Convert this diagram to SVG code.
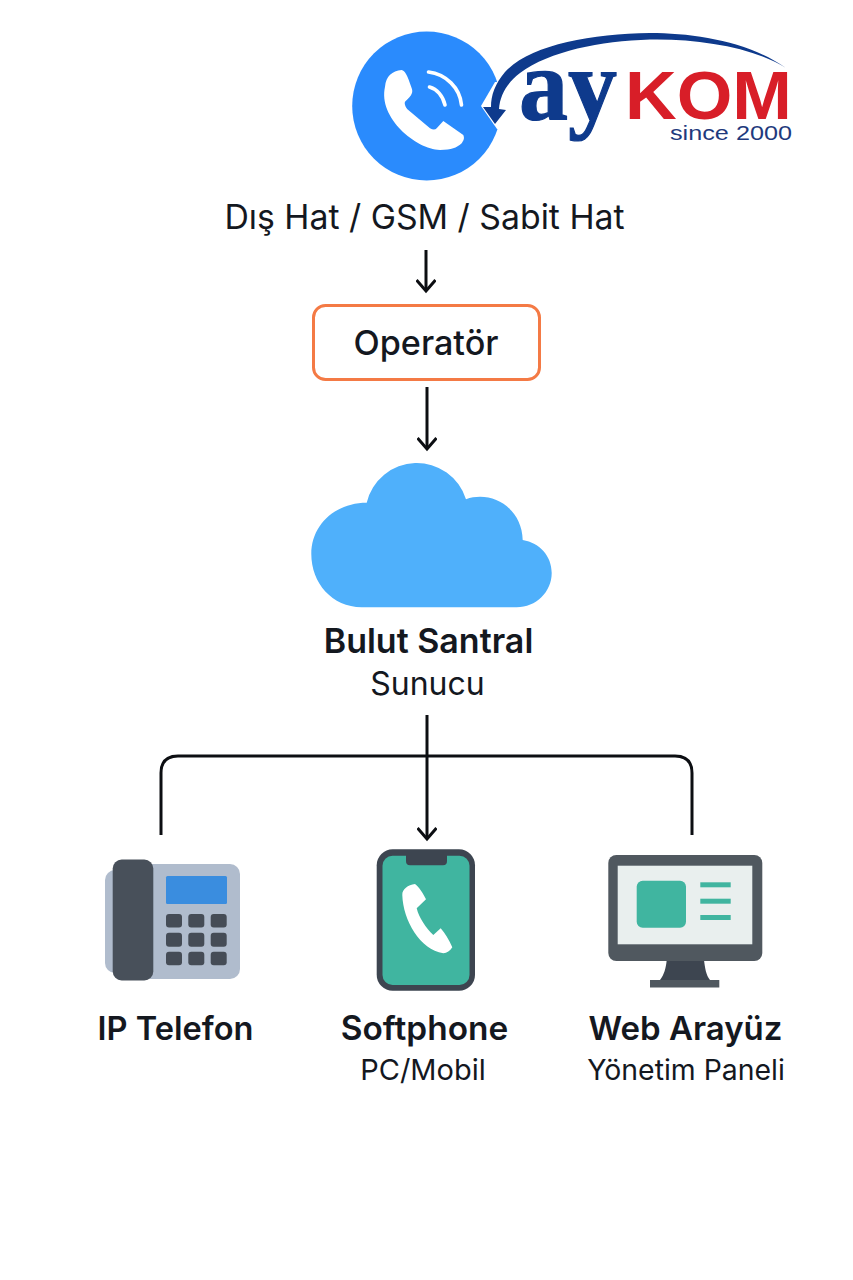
<svg xmlns="http://www.w3.org/2000/svg" width="853" height="1280" viewBox="0 0 853 1280">
<style>
text{font-family:Inter,"Liberation Sans",sans-serif;fill:#14181f;text-anchor:middle}
.h{font-weight:600}
.c{fill:none;stroke:#0c0e12;stroke-width:3}
</style>
<defs>
<marker id="a" markerUnits="userSpaceOnUse" markerWidth="28" markerHeight="20" refX="22" refY="10" orient="auto"><path d="M11,0.5 L22,10 L11,19.5" fill="none" stroke="#0c0e12" stroke-width="3"/></marker>
</defs>
<rect width="853" height="1280" fill="#fff"/>
<g id="logo">
<circle cx="426.7" cy="106" r="74.5" fill="#2a8bfd"/>
<path d="M495,82 L481,106 L497,129 L510,129 L510,82 Z" fill="#fff"/>
<path d="M385,86.7 C386,76 392,71 401.7,70 C405,71 407,74 411.7,88.3 C413,92 412.7,95 405,101.7 C404,104 406,108 408.3,110 L430,128.3 C433,130 435,130 436.7,128.3 L443.3,121 L463.3,135 C465,139 463,141 461.7,143.3 C456,148 452,150 440,150 C416,149 378,118 385,86.7 Z" fill="#fff"/>
<path d="M428.5,72 C446,74 460,88 461.5,105" fill="none" stroke="#fff" stroke-width="3.6" stroke-linecap="round"/>
<path d="M429.5,87 C437,89 443,96 445,105" fill="none" stroke="#fff" stroke-width="3.6" stroke-linecap="round"/>
<path d="M786,68 C750,42 695,33 650,33 C590,34 530,45 505,72 C495,84 491,95 491,107 L483,107 L495,124 L506,110 L499,109 C500,95 507,83 520,73 C550,51 600,41 650,39.5 C700,38.5 755,48 786,68 Z" fill="#0e3a8c"/>
<text x="519" y="119" textLength="98" lengthAdjust="spacingAndGlyphs" style="font-family:'Liberation Serif',serif;font-weight:700;font-size:102px;fill:#0e3a8c;stroke:#0e3a8c;stroke-width:1.2;text-anchor:start">ay</text>
<text x="625" y="119" textLength="167" lengthAdjust="spacingAndGlyphs" style="font-family:'Liberation Sans',sans-serif;font-weight:700;font-size:69px;fill:#d81e28;text-anchor:start">KOM</text>
<text x="670" y="139.5" textLength="122" lengthAdjust="spacingAndGlyphs" style="font-family:'Liberation Sans',sans-serif;font-size:20.5px;fill:#1f3a7d;text-anchor:start">since 2000</text>
</g>
<g id="dis-hat"><text x="424.5" y="229" style="font-size:33.8px">Dış Hat / GSM / Sabit Hat</text></g>
<g id="operator">
<rect x="313.5" y="305.5" width="226" height="74" rx="12" fill="#fff" stroke="#f47a45" stroke-width="3"/>
<text x="426" y="355" style="font-size:34.2px;font-weight:500">Operatör</text>
</g>
<g id="bulut">
<path d="M361.7,607.3 C332,607 311.3,583 311.3,554 C311.3,525 335,502.7 366.7,502.7 A51.5,51.5 0 0 1 466,499.3 C492,490 522,508 522.7,540 C540,543 551.7,556 551.7,573 C551.7,592 536,607.3 516.7,607.3 Z" fill="#4fb0fb"/>
<text class="h" x="428.5" y="653" style="font-size:34px">Bulut Santral</text>
<text x="427.5" y="695" style="font-size:32px">Sunucu</text>
</g>
<g id="connectors">
<path class="c" d="M426,250 V291" marker-end="url(#a)"/>
<path class="c" d="M427,387 V449" marker-end="url(#a)"/>
<path class="c" d="M427,715 V839" marker-end="url(#a)"/>
<path class="c" d="M161,835 V773 Q161,756 178,756 H675 Q692,756 692,773 V835"/>
</g>
<g id="ip-telefon">
<rect x="105" y="870" width="30" height="103" rx="10" fill="#b0bccd"/>
<rect x="120" y="864" width="120" height="115" rx="10" fill="#b0bccd"/>
<rect x="112.7" y="859.5" width="40.6" height="121" rx="9" fill="#48505a"/>
<rect x="166" y="876" width="61" height="28" rx="1.5" fill="#3a8ddf"/>
<g fill="#454c56">
<rect x="166" y="914" width="16" height="13.5" rx="3"/><rect x="188.3" y="914" width="16" height="13.5" rx="3"/><rect x="210.7" y="914" width="16" height="13.5" rx="3"/>
<rect x="166" y="932.7" width="16" height="14" rx="3"/><rect x="188.3" y="932.7" width="16" height="14" rx="3"/><rect x="210.7" y="932.7" width="16" height="14" rx="3"/>
<rect x="166" y="951.7" width="16" height="13.5" rx="3"/><rect x="188.3" y="951.7" width="16" height="13.5" rx="3"/><rect x="210.7" y="951.7" width="16" height="13.5" rx="3"/>
</g>
<text class="h" x="175.5" y="1040" style="font-size:32.6px">IP Telefon</text>
</g>
<g id="softphone">
<rect x="376.7" y="849.3" width="98.3" height="141.4" rx="16" fill="#3d4550"/>
<rect x="382.5" y="855.7" width="87" height="129.3" rx="10" fill="#40b5a0"/>
<path d="M406,855 H447 V861 Q447,865.3 443,865.3 H410 Q406,865.3 406,861 Z" fill="#3d4550"/>
<path d="M402.3,895 C402,889 408,885 415,884 C419,887 423,893 426,899.3 L416.7,908.3 C419,918 426,928 433.3,935 L440.7,928.3 C445,933 449,940 452.3,947.3 C450,951 447,953 443.3,953.3 C420,950 403,920 402.3,895 Z" fill="#fff"/>
<text class="h" x="424.5" y="1040" style="font-size:33.4px">Softphone</text>
<text x="423" y="1080" style="font-size:29px">PC/Mobil</text>
</g>
<g id="web-arayuz">
<path d="M666.7,960 H704 C705,968 706,975 710,980 H660 C664,975 666,968 666.7,960 Z" fill="#3d4550"/>
<rect x="650" y="980" width="69.3" height="7.5" fill="#50585f"/>
<rect x="608.3" y="855" width="154" height="106" rx="8" fill="#50585f"/>
<rect x="617.7" y="865.7" width="134.6" height="78.6" fill="#e9efee"/>
<rect x="636.7" y="880.7" width="49.3" height="47" rx="6" fill="#40b5a0"/>
<g fill="#40b5a0"><rect x="700.3" y="882.3" width="30.4" height="5"/><rect x="700.3" y="898.7" width="30.4" height="5"/><rect x="700.3" y="915" width="30.4" height="5"/></g>
<text class="h" x="685.5" y="1040" style="font-size:33px">Web Arayüz</text>
<text x="686" y="1080" style="font-size:28.4px">Yönetim Paneli</text>
</g>
</svg>
